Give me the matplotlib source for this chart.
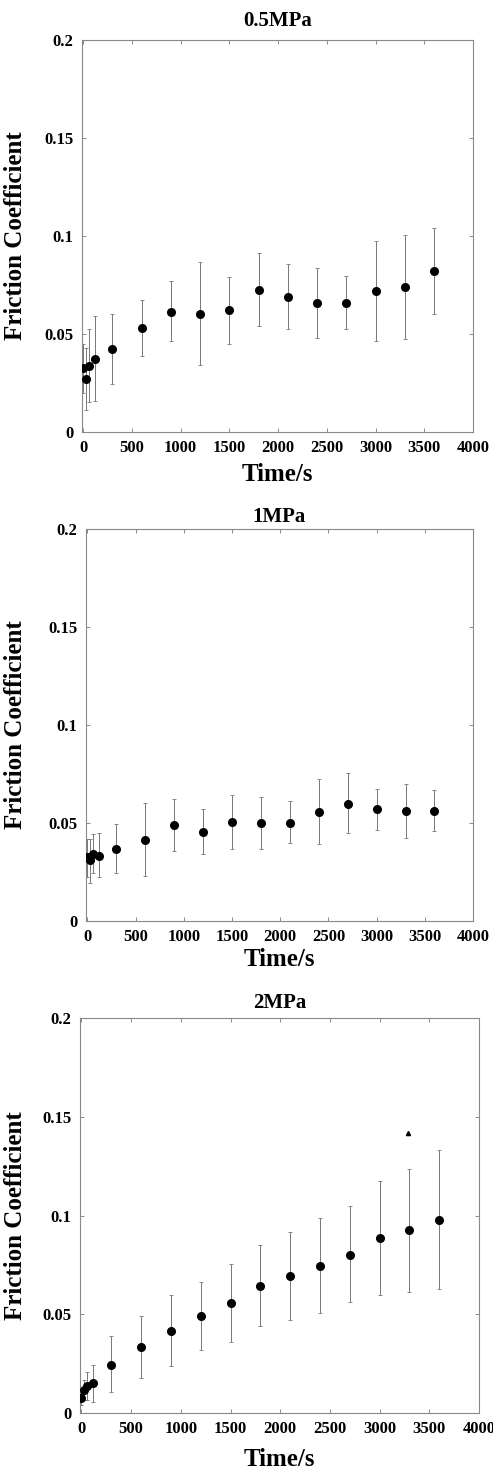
import matplotlib
matplotlib.use("Agg")
import matplotlib.pyplot as plt

plt.rcParams['font.family'] = ['Liberation Serif', 'DejaVu Serif']
plt.rcParams['font.weight'] = 'bold'

# sampling times (s)
time_s = [0, 30, 60, 120, 300, 600, 900, 1200, 1500, 1800, 2100, 2400, 2700, 3000, 3300, 3600]

# 0.5 MPa
mu_05 = [0.0329, 0.027, 0.0337, 0.037, 0.0422, 0.053, 0.0614, 0.060, 0.0621, 0.0725,
         0.0689, 0.0659, 0.066, 0.0718, 0.074, 0.082]
up_05 = [0.045, 0.043, 0.0524, 0.059, 0.060, 0.0676, 0.0768, 0.0865, 0.0793, 0.0914,
         0.0856, 0.0839, 0.0798, 0.0975, 0.1006, 0.1043]
lo_05 = [0.020, 0.011, 0.0153, 0.0157, 0.0247, 0.039, 0.0466, 0.034, 0.045, 0.054,
         0.0523, 0.0482, 0.0523, 0.0466, 0.0477, 0.0604]

# 1 MPa
mu_1 = [0.0329, 0.031, 0.0342, 0.0334, 0.0368, 0.0415, 0.0492, 0.0454, 0.0504, 0.0499,
        0.0502, 0.0557, 0.0599, 0.0569, 0.0562, 0.0562]
up_1 = [0.0417, 0.042, 0.0444, 0.0448, 0.0494, 0.060, 0.0625, 0.0572, 0.0642, 0.0631,
        0.061, 0.0722, 0.0757, 0.0676, 0.070, 0.0667]
lo_1 = [0.0226, 0.0196, 0.0243, 0.0223, 0.0243, 0.023, 0.0359, 0.034, 0.0368, 0.0368,
        0.0397, 0.0393, 0.0449, 0.0463, 0.0422, 0.046]

# 2 MPa
mu_2 = [0.0076, 0.0115, 0.0135, 0.015, 0.0245, 0.0332, 0.0417, 0.049, 0.0557, 0.0641,
        0.0692, 0.0743, 0.0802, 0.0884, 0.0925, 0.0979]
up_2 = [0.012, 0.0169, 0.0208, 0.0245, 0.0388, 0.049, 0.0599, 0.0662, 0.0754, 0.0849,
        0.0916, 0.0986, 0.1046, 0.1175, 0.1237, 0.1332]
lo_2 = [0.004, 0.0068, 0.0068, 0.0054, 0.0106, 0.0177, 0.0236, 0.0319, 0.036, 0.0439,
        0.0469, 0.0506, 0.056, 0.0596, 0.0611, 0.0628]

# stray mark in the 2 MPa panel
stray_x = [3290]
stray_y = [0.142]

titles = ['0.5MPa', '1MPa', '2MPa']
xticks = [0, 500, 1000, 1500, 2000, 2500, 3000, 3500, 4000]
yticks = [0, 0.05, 0.1, 0.15, 0.2]
ytick_labels = ['0', '0.05', '0.1', '0.15', '0.2']

W, H = 493, 1476
fig = plt.figure(figsize=(W / 100, H / 100), dpi=100)

# axes boxes in pixels: left, top, right, bottom
boxes = [(82, 40, 473, 432), (86, 529, 473, 921), (80, 1018, 479, 1413)]
xmins = [-12, -15, -15]
title_pads = [10, 5, 7]
xlabel_pads = [5, 2, 8]
series = [(mu_05, up_05, lo_05), (mu_1, up_1, lo_1), (mu_2, up_2, lo_2)]

for i, (box, (mu, up, lo)) in enumerate(zip(boxes, series)):
    l, t, r, b = box
    ax = fig.add_axes([l / W, (H - b) / H, (r - l) / W, (b - t) / H])
    yerr = [[m - lw for m, lw in zip(mu, lo)], [u - m for m, u in zip(mu, up)]]
    ax.errorbar(time_s, mu, yerr=yerr, fmt='none', ecolor='#777777',
                elinewidth=0.7, capsize=1.5, capthick=0.6)
    ax.plot(time_s, mu, 'o', color='black', markersize=5.5, zorder=3)
    if i == 2:
        ax.plot(stray_x, stray_y, '^', color='black', markersize=3)

    ax.set_xlim(xmins[i], 4000)
    ax.set_ylim(0, 0.2)
    ax.set_xticks(xticks)
    ax.set_yticks(yticks)
    ax.set_yticklabels(ytick_labels)
    ax.tick_params(direction='in', length=3, width=0.6, color='#777777',
                   top=True, right=True, labelsize=12, pad=6)
    for lab in ax.get_xticklabels() + ax.get_yticklabels():
        lab.set_fontweight('bold')
    for sp in ax.spines.values():
        sp.set_color('#888888')
        sp.set_linewidth(0.8)
        sp.set_linestyle((0, (2, 1)))

    ax.set_title(titles[i], fontsize=15, fontweight='bold', pad=title_pads[i])
    ax.set_xlabel('Time/s', fontsize=18, fontweight='bold', labelpad=xlabel_pads[i])
    ax.set_ylabel('Friction Coefficient', fontsize=18, fontweight='bold')
    ax.yaxis.set_label_coords((27 - l) / (r - l), 0.5)

fig.savefig('out.png', dpi=100)
